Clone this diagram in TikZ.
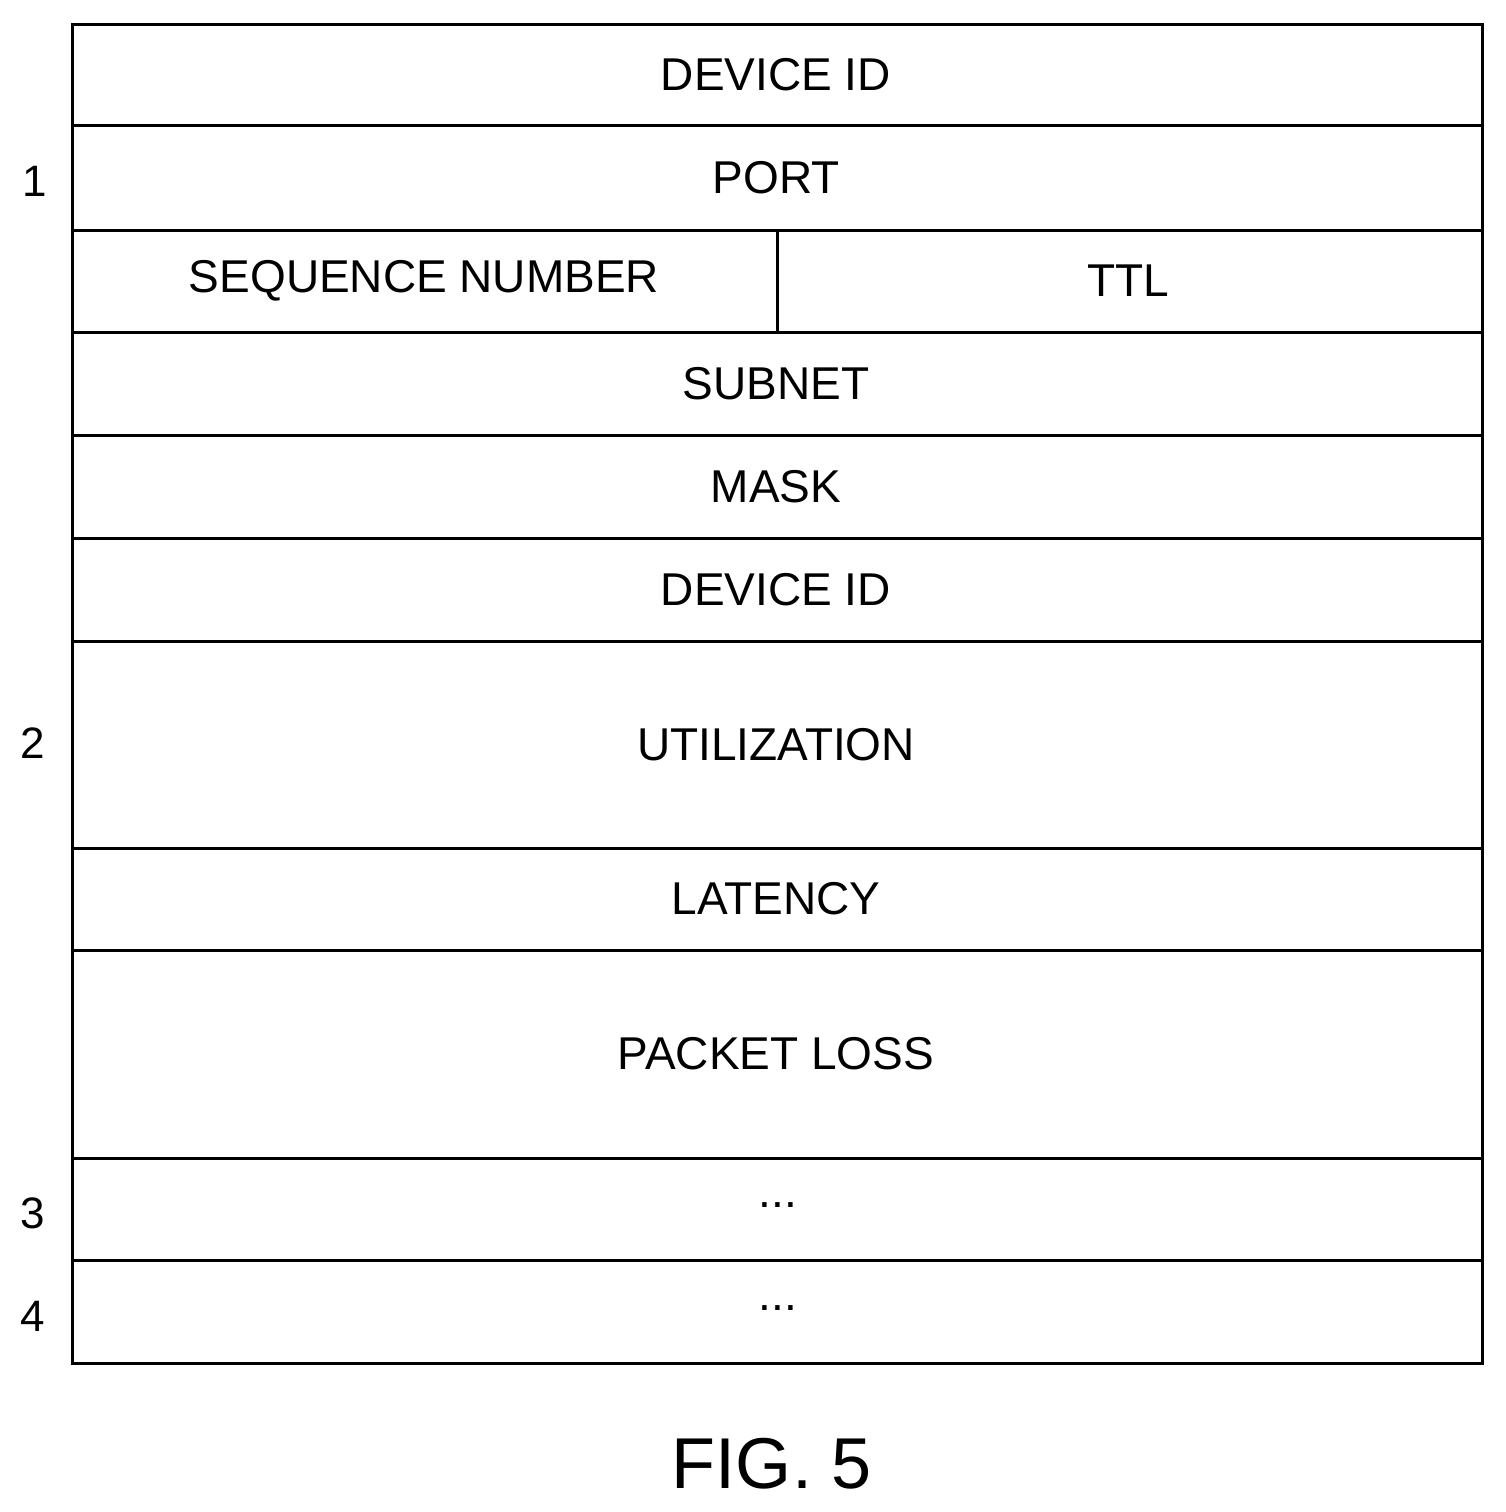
\documentclass[tikz,border=0pt]{standalone}
\usepackage{fontspec}
\setmainfont{Liberation Sans}
\begin{document}
\begin{tikzpicture}[x=1pt,y=-1pt,
  lab/.style={font=\fontsize{46}{50}\selectfont,anchor=center},
  num/.style={font=\fontsize{44}{50}\selectfont,anchor=center},
  line width=3pt]
\useasboundingbox (0,0) rectangle (1506,1512);
\draw (72,25) rectangle (1482,1363);
\foreach \y in {125,230,332,435,538,641,848,950,1158,1260} \draw (72,\y) -- (1482,\y);
\draw (777,230) -- (777,332);
\node[lab] (a) at (776,75) {DEVICE ID};
\node[lab] (b) at (776,178) {PORT};
\node[lab] (c) at (424,281) {SEQUENCE NUMBER};
\node[lab] (d) at (1128,281) {TTL};
\node[lab] (e) at (776,384) {SUBNET};
\node[lab] (f) at (776,487) {MASK};
\node[lab] (g) at (776,590) {DEVICE ID};
\node[lab] (h) at (776,745) {UTILIZATION};
\node[lab] (i) at (776,899) {LATENCY};
\node[lab] (j) at (776,1054) {PACKET LOSS};
\node[lab] (k) at (778,1205) {...};
\node[lab] (l) at (778,1308) {...};
\node[num] (n1) at (35,181) {1};
\node[num] (n2) at (33,743) {2};
\node[num] (n3) at (33,1213) {3};
\node[num] (n4) at (33,1316) {4};
\node[font=\fontsize{72}{80}\selectfont] (fig) at (772,1464) {FIG. 5};
\end{tikzpicture}
\end{document}
